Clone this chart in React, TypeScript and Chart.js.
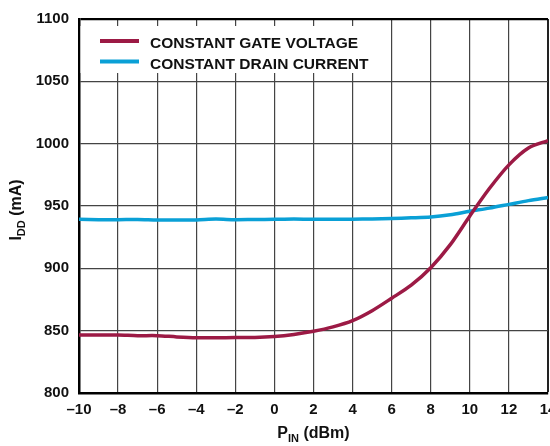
import React, { useEffect, useRef } from "react";
import { Chart, registerables } from "chart.js";

Chart.register(...registerables);

const pinDbm = [-10, -9, -8, -7, -6, -5, -4, -3, -2, -1, 0, 1, 2, 3, 4, 5, 6, 7, 8, 9, 10, 11, 12, 13, 14];
const constantGateVoltage = [846.5, 846.5, 846.5, 846, 846, 845, 844.3, 844.3, 844.5, 844.5, 845.3, 847, 849.5, 853, 858, 866, 876, 886.5, 900.5, 919, 942, 964, 983, 996.5, 1002.5];
const constantDrainCurrent = [939.3, 939, 939, 939.2, 938.8, 938.8, 938.8, 939.5, 939, 939.2, 939.3, 939.5, 939.4, 939.4, 939.4, 939.6, 940, 940.5, 941.2, 943, 945.8, 948.3, 951.3, 954.3, 956.8];

const seriesNames = ["CONSTANT GATE VOLTAGE", "CONSTANT DRAIN CURRENT"];
const seriesColors = ["#9c1a45", "#0aa0d6"];
const yMin = 800, yMax = 1100, yStep = 50;
const xMin = -10, xMax = 14, xStep = 2;

const FONT = "'Liberation Sans', Arial, sans-serif";

const decor = {
  id: "decor",
  beforeDatasetsDraw(chart: any) {
    const ctx = chart.ctx;
    const a = chart.chartArea;
    ctx.save();
    ctx.fillStyle = "#fff";
    ctx.fillRect(a.left + 1.5, 26, 376 - a.left, 47);
    const rows = [41, 61.5];
    const bases = [48.3, 69.3];
    for (let i = 0; i < 2; i++) {
      ctx.strokeStyle = seriesColors[i];
      ctx.lineWidth = 4;
      ctx.beginPath();
      ctx.moveTo(100, rows[i]);
      ctx.lineTo(139, rows[i]);
      ctx.stroke();
      ctx.fillStyle = "#111";
      ctx.font = `bold 15.5px ${FONT}`;
      ctx.textBaseline = "alphabetic";
      ctx.textAlign = "left";
      ctx.fillText(seriesNames[i], 150, bases[i]);
    }
    ctx.restore();
  },
  afterDraw(chart: any) {
    const ctx = chart.ctx;
    const a = chart.chartArea;
    ctx.save();
    ctx.fillStyle = "#111";
    ctx.textBaseline = "alphabetic";
    ctx.textAlign = "left";
    const big = `bold 16px ${FONT}`;
    const small = `bold 11px ${FONT}`;
    // x title
    const parts = [
      { t: "P", f: big, dy: 0 },
      { t: "IN", f: small, dy: 4 },
      { t: " (dBm)", f: big, dy: 0 },
    ];
    let w = 0;
    for (const p of parts) { ctx.font = p.f; w += ctx.measureText(p.t).width; }
    let x = (a.left + a.right) / 2 - w / 2;
    for (const p of parts) {
      ctx.font = p.f;
      ctx.fillText(p.t, x, 438 + p.dy);
      x += ctx.measureText(p.t).width;
    }
    // y title
    const yparts = [
      { t: "I", f: big, dy: 0 },
      { t: "DD", f: small, dy: 4 },
      { t: " (mA)", f: big, dy: 0 },
    ];
    w = 0;
    for (const p of yparts) { ctx.font = p.f; w += ctx.measureText(p.t).width; }
    ctx.translate(21, (a.top + a.bottom) / 2 + 4);
    ctx.rotate(-Math.PI / 2);
    x = -w / 2;
    for (const p of yparts) {
      ctx.font = p.f;
      ctx.fillText(p.t, x, p.dy);
      x += ctx.measureText(p.t).width;
    }
    ctx.restore();
  },
};

export default function App() {
  const ref = useRef<HTMLCanvasElement>(null);
  useEffect(() => {
    const chart = new Chart(ref.current as HTMLCanvasElement, {
      type: "line",
      data: {
        datasets: [
          {
            label: seriesNames[0],
            data: pinDbm.map((x, i) => ({ x, y: constantGateVoltage[i] })),
            borderColor: seriesColors[0],
            borderWidth: 3.5,
            pointRadius: 0,
            tension: 0.3,
            fill: false,
          },
          {
            label: seriesNames[1],
            data: pinDbm.map((x, i) => ({ x, y: constantDrainCurrent[i] })),
            borderColor: seriesColors[1],
            borderWidth: 3.5,
            pointRadius: 0,
            tension: 0.3,
            fill: false,
          },
        ],
      },
      options: {
        animation: false,
        responsive: false,
        devicePixelRatio: 1,
        layout: { padding: { top: 16, right: 52, left: 0, bottom: 0 } },
        plugins: { legend: { display: false }, tooltip: { enabled: false } },
        scales: {
          x: {
            type: "linear",
            min: xMin,
            max: xMax,
            afterFit: (s: any) => { s.height = 53; },
            ticks: {
              stepSize: xStep,
              padding: 8,
              color: "#111",
              font: { family: FONT, size: 15, weight: "bold" },
              callback: (v: any) => String(v).replace("-", "\u2013"),
            },
            grid: {
              drawTicks: false,
              color: (c: any) => (c.tick && c.tick.value === xMax ? "#222" : "#444"),
              lineWidth: (c: any) => (c.tick && c.tick.value === xMax ? 2 : 1.2),
            },
            border: { color: "#000", width: 2.5 },
          },
          y: {
            min: yMin,
            max: yMax,
            afterFit: (s: any) => { s.width = 79; },
            ticks: {
              stepSize: yStep,
              padding: 10,
              color: "#111",
              font: { family: FONT, size: 15, weight: "bold" },
              callback: (v: any) => String(v),
            },
            grid: {
              drawTicks: false,
              color: (c: any) => (c.tick && c.tick.value === yMax ? "#000" : "#444"),
              lineWidth: (c: any) => (c.tick && c.tick.value === yMax ? 2.2 : 1.3),
            },
            border: { color: "#000", width: 2.5 },
          },
        },
      },
      plugins: [decor],
    } as any);
    return () => chart.destroy();
  }, []);
  return (
    <div style={{ position: "fixed", left: 0, top: 0, width: 550, height: 446, overflow: "hidden", background: "#fff" }}>
      <canvas ref={ref} width={600} height={446} style={{ display: "block" }} />
    </div>
  );
}
